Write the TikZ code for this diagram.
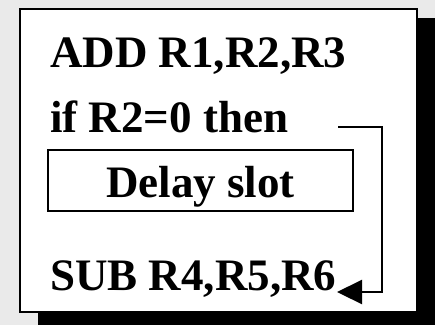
\documentclass[tikz,border=0pt]{standalone}
\usepackage{fontspec}
\setmainfont{Liberation Serif}
\usetikzlibrary{arrows.meta}
\definecolor{bggray}{RGB}{234,234,234}
\tikzset{
  code/.style={anchor=base west, inner sep=0pt, font=\fontsize{45}{45}\selectfont\bfseries},
  slotbox/.style={draw, line width=2.5pt, anchor=base, minimum width=305pt, text height=47pt, text depth=14pt, inner sep=0pt, font=\fontsize{45}{45}\selectfont\bfseries},
  jump/.style={line width=2.2pt, -{Triangle[length=25pt, width=24pt]}}
}
\begin{document}
\begin{tikzpicture}[x=1pt, y=-1pt]
  \fill[bggray] (0,0) rectangle (435,325);
  \useasboundingbox (0,0) rectangle (435,325);
  \fill[black] (38,18) rectangle (435,325);
  \draw[fill=white, line width=2.5pt] (20,9) rectangle (417,312);
  \node[code] (add) at (50,67) {ADD R1,R2,R3};
  \node[code] (if) at (50,132) {if R2=0 then};
  \node[slotbox] (slot) at (200.5,197) {Delay slot\hspace{8pt}};
  \node[code] (sub) at (50,290) {SUB R4,R5,R6};
  \coordinate (start) at (338,127);
  \coordinate (c1) at (382,127);
  \coordinate (c2) at (382,292);
  \coordinate (tip) at (337,292);
  \draw[jump] (start) -- (c1) -- (c2) -- (tip);
\end{tikzpicture}
\end{document}
